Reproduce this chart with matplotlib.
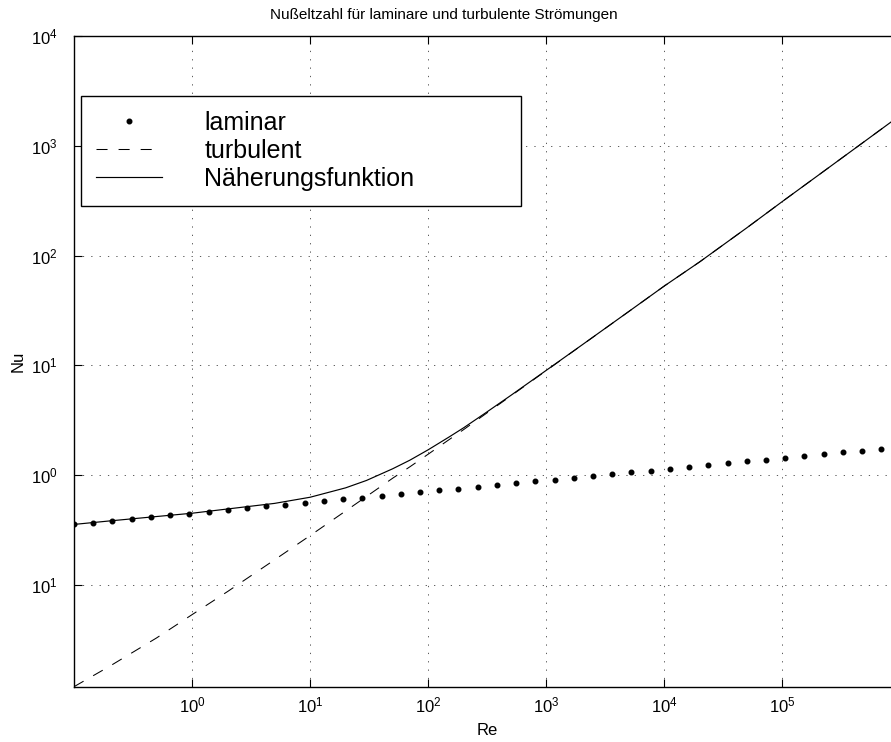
import numpy as np
import matplotlib
matplotlib.use("Agg")
import matplotlib.pyplot as plt

plt.rcParams['font.family'] = ['Liberation Sans', 'DejaVu Sans']
plt.rcParams['mathtext.fontset'] = 'custom'
plt.rcParams['mathtext.rm'] = 'Liberation Sans'
plt.rcParams['mathtext.it'] = 'Liberation Sans:italic'
plt.rcParams['mathtext.bf'] = 'Liberation Sans:bold'

# laminar points
re_lam = [0.1, 0.1455, 0.2117, 0.308, 0.448, 0.6516, 0.9478, 1.379, 2.006, 2.918,
          4.245, 6.175, 8.984, 13.07, 19.01, 27.66, 40.24, 58.54, 85.17, 123.9,
          180.3, 262.2, 381.5, 555.0, 807.4, 1175, 1708, 2485, 3615, 5260,
          7651, 11130, 16190, 23560, 34270, 49860, 72530, 105500, 153500, 223300,
          324900, 472600, 687600, 1000000]
nu_lam = [0.355, 0.367, 0.383, 0.399, 0.414, 0.429, 0.444, 0.463, 0.483, 0.500,
          0.518, 0.536, 0.555, 0.579, 0.600, 0.621, 0.648, 0.671, 0.700, 0.724,
          0.750, 0.782, 0.811, 0.845, 0.881, 0.906, 0.945, 0.986, 1.021, 1.057,
          1.095, 1.141, 1.182, 1.224, 1.276, 1.331, 1.378, 1.428, 1.478, 1.541,
          1.607, 1.666, 1.726, 1.79]

# turbulent and approximation curves
re_curve = [0.1, 0.2, 0.5, 1, 2, 5, 10, 20, 30, 50, 70, 100, 150, 200, 300, 500,
            1e3, 2e3, 5e3, 1e4, 2e4, 5e4, 1e5, 2e5, 5e5, 1e6]
nu_turb = [0.0118, 0.0181, 0.0328, 0.0535, 0.0869, 0.169, 0.281, 0.471, 0.638, 0.936,
           1.19, 1.55, 2.10, 2.60, 3.55, 5.25, 8.95, 15.25, 30.9, 52.8,
           87.8, 179.0, 311.0, 536.0, 1102.0, 1903.0]
nu_approx = [0.355, 0.382, 0.419, 0.449, 0.491, 0.552, 0.628, 0.765, 0.893, 1.141,
             1.367, 1.70, 2.22, 2.70, 3.63, 5.31, 9.0, 15.28, 30.92, 52.81,
             87.81, 179.0, 311.0, 536.0, 1102.0, 1903.0]

xticks = [1e0, 1e1, 1e2, 1e3, 1e4, 1e5]
xticklabels = [r'$\mathregular{10^{%d}}$' % e for e in range(0, 6)]
yticks = [1e-1, 1e0, 1e1, 1e2, 1e3, 1e4]
yticklabels = [r'$\mathregular{10^{1}}$', r'$\mathregular{10^{0}}$', r'$\mathregular{10^{1}}$',
               r'$\mathregular{10^{2}}$', r'$\mathregular{10^{3}}$', r'$\mathregular{10^{4}}$']

fig = plt.figure(figsize=(8.91, 7.42), dpi=100)
ax = fig.add_axes([0.08305, 0.07453, 0.9276, 0.87695])

ax.plot(re_lam, nu_lam, linestyle='none', marker='o', markersize=3.3, color='black',
        label='laminar')
ax.plot(re_curve, nu_turb, color='black', linewidth=0.75, linestyle=(0, (10.6, 10.6)),
        label='turbulent')
ax.plot(re_curve, nu_approx, color='black', linewidth=0.85, label='Näherungsfunktion')

ax.set_xscale('log')
ax.set_yscale('log')
ax.set_xlim(0.1, 1e6)
ax.set_ylim(0.0118, 1e4)
ax.set_xticks(xticks)
ax.set_xticklabels(xticklabels)
ax.set_yticks(yticks)
ax.set_yticklabels(yticklabels)
ax.minorticks_off()
ax.tick_params(which='major', direction='in', length=6, width=0.8, top=True, right=True,
               labelsize=12)
ax.tick_params(axis='y', pad=12)
ax.tick_params(axis='x', pad=6)
for sp in ax.spines.values():
    sp.set_linewidth(1.0)

ax.grid(True, which='major', color='0.35', linewidth=0.7, linestyle=(0, (1.3, 7.3)))

ax.set_xlabel('Re', fontsize=12)
ax.set_ylabel('Nu', fontsize=12)
ax.xaxis.set_label_coords(0.5, -0.0558)
ax.yaxis.set_label_coords(-0.058, 0.5)
ax.set_title('Nußeltzahl für laminare und turbulente Strömungen', fontsize=11,
             x=0.447, pad=12)

leg = ax.legend(loc='upper left', bbox_to_anchor=(0.00847, 0.7403, 0.5324, 0.1675),
                mode='expand', borderaxespad=0, fontsize=18, handlelength=2.64,
                handletextpad=1.68, labelspacing=0.152, borderpad=0.61, numpoints=1,
                fancybox=False, framealpha=1, edgecolor='black')
leg.get_frame().set_linewidth(1.0)

fig.savefig('out.png', dpi=100)
